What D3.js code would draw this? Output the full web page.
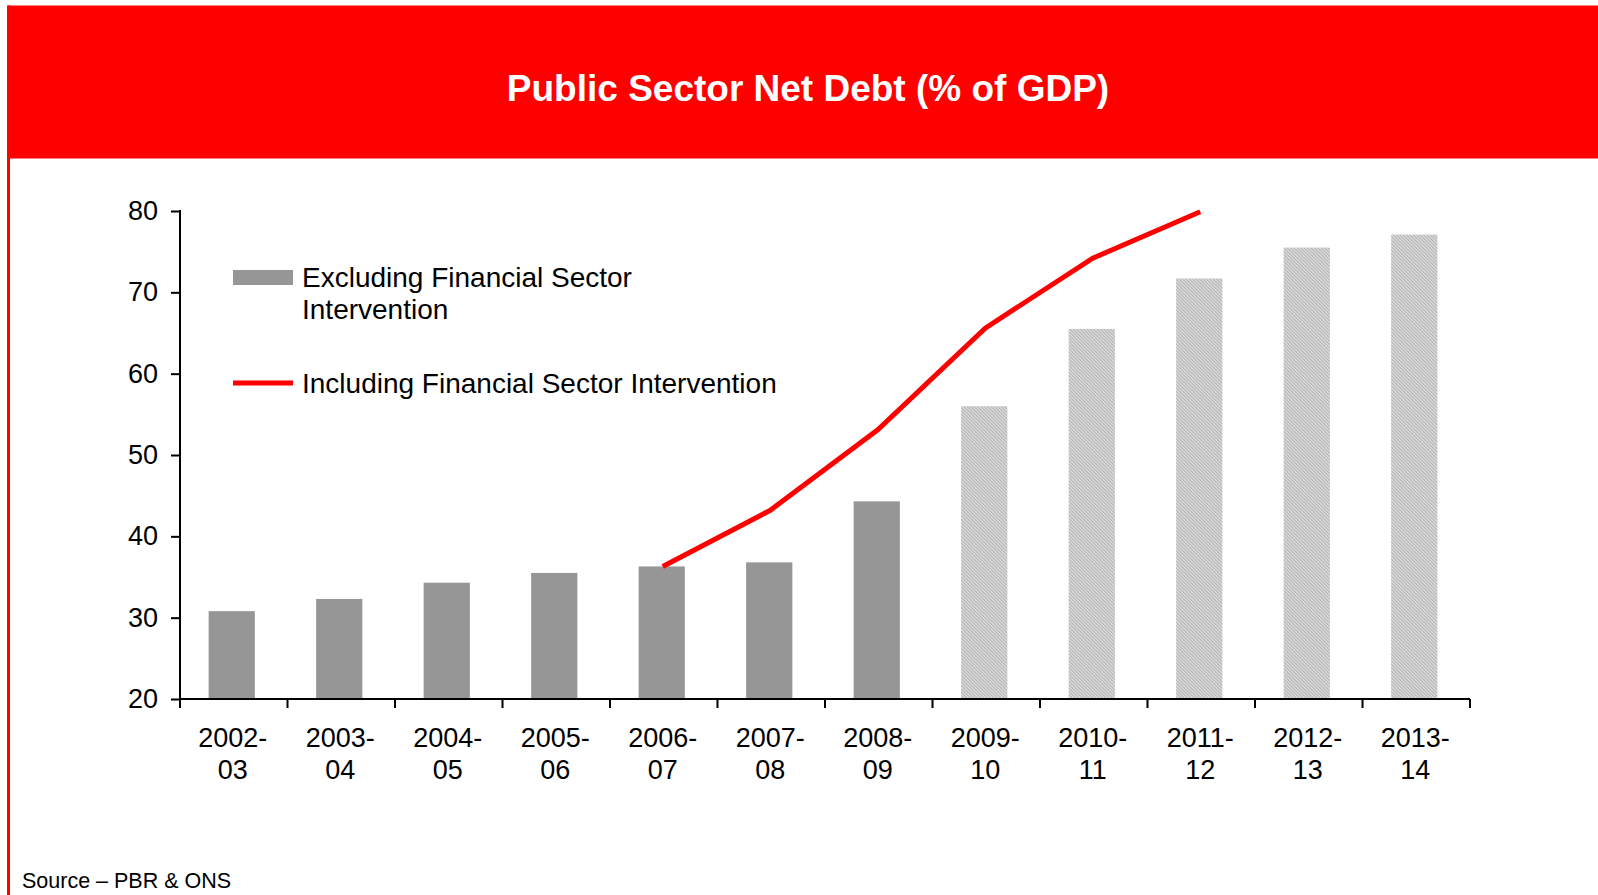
<!DOCTYPE html>
<html>
<head>
<meta charset="utf-8">
<script src="https://cdn.jsdelivr.net/npm/d3@7"></script>
<style>
  html, body { margin: 0; padding: 0; background: #fff; }
  svg { display: block; font-family: "Liberation Sans", Arial, sans-serif; }
</style>
</head>
<body>
<svg id="chart" width="1598" height="895"></svg>
<script>
// Fiscal years (two-line labels)
const categories = ["2002-03","2003-04","2004-05","2005-06","2006-07","2007-08",
                    "2008-09","2009-10","2010-11","2011-12","2012-13","2013-14"];
// Public sector net debt excluding financial sector intervention, % of GDP
const excludingValues = [30.8, 32.3, 34.3, 35.5, 36.3, 36.8, 44.3, 56.0, 65.5, 71.7, 75.5, 77.1];
// Projection years are drawn with a hatched fill
const projectedFrom = "2009-10";
// Including financial sector intervention, % of GDP
const includingCategories = ["2006-07","2007-08","2008-09","2009-10","2010-11","2011-12"];
const includingValues = [36.3, 43.2, 53.1, 65.6, 74.2, 79.9];
const yTicks = [20, 30, 40, 50, 60, 70, 80];

const title = "Public Sector Net Debt (% of GDP)";
const legendLabels = [["Excluding Financial Sector", "Intervention"],
                      ["Including Financial Sector Intervention"]];
const sourceText = "Source \u2013 PBR & ONS";

(function draw() {
  const svg = d3.select("#chart");
  const W = 1598, H = 895;

  // Header band and left rule
  svg.append("rect").attr("x", 8).attr("y", 5.5).attr("width", W - 8).attr("height", 153)
    .attr("fill", "#ff0000");
  svg.append("rect").attr("x", 7).attr("y", 5.5).attr("width", 3).attr("height", H)
    .attr("fill", "#ff0000");
  svg.append("text").attr("x", 808).attr("y", 101).attr("text-anchor", "middle")
    .attr("fill", "#fff").attr("font-weight", "bold").attr("font-size", 37)
    .text(title);

  // Fine hatch pattern for projection bars
  const defs = svg.append("defs");
  const pat = defs.append("pattern").attr("id", "hatch").attr("patternUnits", "userSpaceOnUse")
    .attr("width", 2.4).attr("height", 2.4).attr("patternTransform", "rotate(-45)");
  pat.append("rect").attr("width", 2.4).attr("height", 2.4).attr("fill", "#dedede");
  pat.append("rect").attr("width", 1.1).attr("height", 2.4).attr("fill", "#b2b2b2");

  const plotLeft = 180, plotRight = 1470, plotTop = 211, plotBottom = 699;
  const barShift = -2;

  const x = d3.scaleBand().domain(categories).range([plotLeft, plotRight])
    .paddingInner(0.57).paddingOuter(0.285);
  const y = d3.scaleLinear().domain([20, 80]).range([plotBottom, plotTop]);
  const edges = d3.scaleLinear().domain([0, categories.length]).range([plotLeft, plotRight]);

  // Bars
  const projIdx = categories.indexOf(projectedFrom);
  svg.append("g").selectAll("rect").data(categories).join("rect")
    .attr("x", d => x(d) + barShift)
    .attr("width", x.bandwidth())
    .attr("y", (d, i) => y(excludingValues[i]))
    .attr("height", (d, i) => y(20) - y(excludingValues[i]))
    .attr("fill", (d, i) => i >= projIdx ? "url(#hatch)" : "#969696");

  // Line including financial interventions
  const line = d3.line()
    .x((d, i) => x(includingCategories[i]) + x.bandwidth() / 2 - 1)
    .y(d => y(d));
  svg.append("path").datum(includingValues)
    .attr("d", line).attr("fill", "none")
    .attr("stroke", "#ff0000").attr("stroke-width", 5);

  // Y axis
  const yAxis = svg.append("g").attr("transform", `translate(${plotLeft},0)`)
    .call(d3.axisLeft(y).tickValues(yTicks).tickSize(9).tickPadding(13).tickSizeOuter(0));
  yAxis.select(".domain").remove();
  yAxis.selectAll(".tick line").attr("stroke", "#000").attr("stroke-width", 2);
  yAxis.selectAll(".tick text").attr("font-size", 27).attr("fill", "#000")
    .attr("font-family", "'Liberation Sans', Arial, sans-serif");
  svg.append("line").attr("x1", plotLeft).attr("x2", plotLeft)
    .attr("y1", plotTop - 1).attr("y2", plotBottom + 9)
    .attr("stroke", "#000").attr("stroke-width", 2);

  // X axis line and boundary ticks
  svg.append("line").attr("x1", plotLeft).attr("x2", plotRight)
    .attr("y1", plotBottom).attr("y2", plotBottom)
    .attr("stroke", "#000").attr("stroke-width", 2);
  svg.append("g").selectAll("line").data(d3.range(1, categories.length + 1)).join("line")
    .attr("x1", d => edges(d)).attr("x2", d => edges(d))
    .attr("y1", plotBottom).attr("y2", plotBottom + 9)
    .attr("stroke", "#000").attr("stroke-width", 2);

  // Category labels
  const xl = svg.append("g").selectAll("text").data(categories).join("text")
    .attr("x", d => x(d) + x.bandwidth() / 2)
    .attr("y", 747)
    .attr("text-anchor", "middle").attr("font-size", 27).attr("fill", "#000");
  xl.append("tspan").attr("x", d => x(d) + x.bandwidth() / 2 - 1).text(d => d.split("-")[0] + "-");
  xl.append("tspan").attr("x", d => x(d) + x.bandwidth() / 2 - 1).attr("dy", 32).text(d => d.split("-")[1]);

  // Legend
  const lg = svg.append("g");
  lg.append("rect").attr("x", 233).attr("y", 270).attr("width", 60).attr("height", 15)
    .attr("fill", "#969696");
  lg.append("text").attr("x", 302).attr("y", 287).attr("font-size", 28).attr("fill", "#000")
    .selectAll("tspan").data(legendLabels[0]).join("tspan")
    .attr("x", 302).attr("dy", (d, i) => i ? 32 : 0).text(d => d);
  lg.append("line").attr("x1", 233).attr("x2", 293).attr("y1", 383).attr("y2", 383)
    .attr("stroke", "#ff0000").attr("stroke-width", 5);
  lg.append("text").attr("x", 302).attr("y", 393).attr("font-size", 28).attr("fill", "#000")
    .text(legendLabels[1][0]);

  // Source note
  svg.append("text").attr("x", 22).attr("y", 888).attr("font-size", 21.5).attr("fill", "#000")
    .text(sourceText);
})();
</script>
</body>
</html>
